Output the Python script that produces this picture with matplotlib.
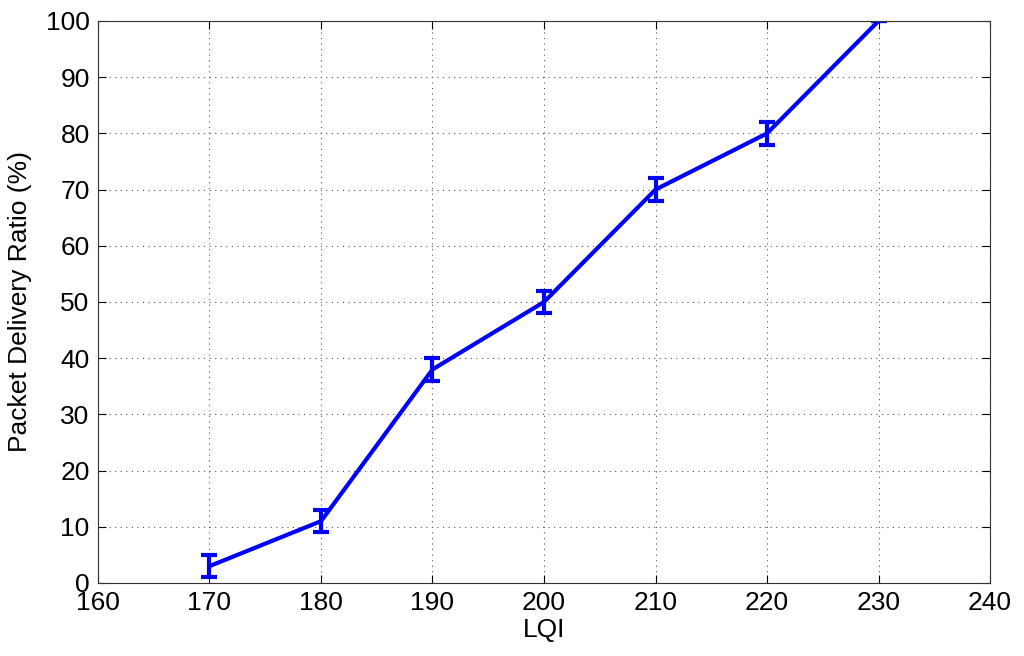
import matplotlib
matplotlib.use("Agg")
import matplotlib.pyplot as plt

lqi = [170, 180, 190, 200, 210, 220, 230]
pdr = [3, 11, 38, 50, 70, 80, 100]
pdr_err = [2, 2, 2, 2, 2, 2, 0]

plt.rcParams["font.family"] = ["Liberation Sans", "DejaVu Sans"]

fig = plt.figure(figsize=(10.24, 6.56), dpi=100)
ax = fig.add_axes([0.0957, 0.1113, 0.8711, 0.8567])

ax.errorbar(lqi, pdr, yerr=pdr_err, color="blue", linewidth=3,
            elinewidth=3, capsize=6, capthick=3)

ax.set_xlim(160, 240)
ax.set_ylim(0, 100)
ax.set_xticks(range(160, 241, 10))
ax.set_yticks(range(0, 101, 10))
ax.grid(True, linestyle=(0, (1, 4)), color="#555555", linewidth=0.8)
ax.tick_params(direction="in", top=True, right=True, labelsize=19,
               length=6, pad=6)
for s in ax.spines.values():
    s.set_color("#333333")

ax.set_xlabel("LQI", fontsize=19, labelpad=2)
ax.set_ylabel("Packet Delivery Ratio (%)", fontsize=19, labelpad=10)

fig.savefig("out.png", dpi=100)
